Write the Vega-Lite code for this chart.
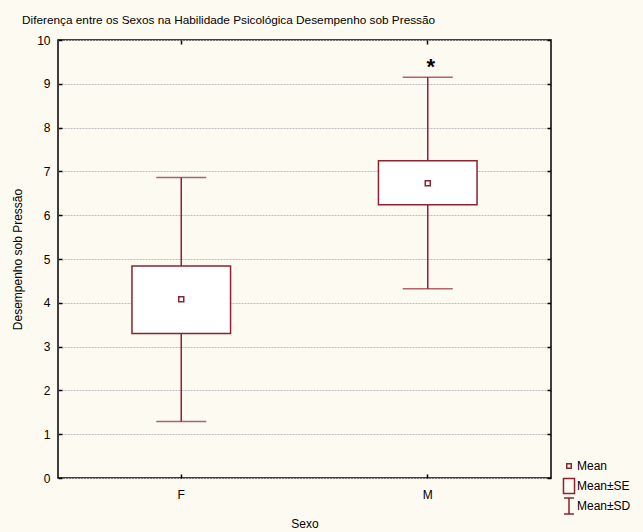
{
  "$schema": "https://vega.github.io/schema/vega-lite/v6.json",
  "width": 493,
  "height": 438,
  "autosize": "none",
  "padding": {"left": 58, "top": 40, "right": 92, "bottom": 54},
  "background": "#fdfaf2",
  "title": {
    "text": "Diferença entre os Sexos na Habilidade Psicológica Desempenho sob Pressão",
    "anchor": "start",
    "frame": "group",
    "dx": -36,
    "offset": -2,
    "baseline": "alphabetic",
    "fontSize": 11.8,
    "fontWeight": "normal",
    "font": "Liberation Sans",
    "color": "black"
  },
  "config": {
    "view": {"fill": "white", "stroke": "black", "strokeWidth": 1.5},
    "font": "Liberation Sans",
    "axis": {
      "labelFont": "Liberation Sans",
      "titleFont": "Liberation Sans",
      "labelFontSize": 12,
      "titleFontSize": 12,
      "titleFontWeight": "normal",
      "labelColor": "black",
      "titleColor": "black",
      "tickColor": "black",
      "tickWidth": 1.5,
      "domain": false
    }
  },
  "datasets": {
    "stats": [
      {"Sexo": "F", "mean": 4.08, "seLow": 3.30, "seHigh": 4.84, "sdLow": 1.29, "sdHigh": 6.86, "sig": "", "sigY": null},
      {"Sexo": "M", "mean": 6.73, "seLow": 6.24, "seHigh": 7.245, "sdLow": 4.32, "sdHigh": 9.15, "sig": "*", "sigY": 9.23}
    ],
    "legend": [
      {"k": "Mean"},
      {"k": "Mean±SE"},
      {"k": "Mean±SD"}
    ]
  },
  "layer": [
    {
      "data": {"name": "stats"},
      "mark": {"type": "rule", "color": "#8b2332", "strokeWidth": 1.5},
      "encoding": {
        "x": {
          "field": "Sexo", "type": "nominal",
          "scale": {"type": "band", "paddingInner": 0, "paddingOuter": 0},
          "axis": {"orient": "bottom", "title": "Sexo", "titleY": 40, "labelAngle": 0, "labelPadding": 15, "tickSize": -4, "grid": false}
        },
        "y": {
          "field": "sdLow", "type": "quantitative",
          "scale": {"domain": [0, 10], "nice": false},
          "axis": {"orient": "left", "title": "Desempenho sob Pressão", "titleX": -34, "titleY": 219, "values": [0,1,2,3,4,5,6,7,8,9,10], "grid": true, "gridDash": [2, 1], "gridColor": "#bbbbbb", "tickSize": -4, "labelPadding": 12}
        },
        "y2": {"field": "sdHigh"}
      }
    },
    {
      "data": {"name": "stats"},
      "mark": {"type": "bar", "fill": "white", "stroke": "#8b2332", "strokeWidth": 1.5, "width": {"band": 0.4}},
      "encoding": {
        "x": {"field": "Sexo", "type": "nominal", "axis": {"orient": "top", "labels": false, "title": null, "tickSize": -4, "grid": false}},
        "y": {"field": "seLow", "type": "quantitative", "axis": {"orient": "right", "labels": false, "title": null, "tickSize": -4, "grid": false, "values": [0,1,2,3,4,5,6,7,8,9,10]}},
        "y2": {"field": "seHigh"}
      }
    },
    {
      "data": {"name": "stats"},
      "mark": {"type": "tick", "color": "#8b2332", "thickness": 1.5, "size": 50},
      "encoding": {
        "x": {"field": "Sexo", "type": "nominal", "axis": null},
        "y": {"field": "sdHigh", "type": "quantitative", "axis": null}
      }
    },
    {
      "data": {"name": "stats"},
      "mark": {"type": "tick", "color": "#8b2332", "thickness": 1.5, "size": 50},
      "encoding": {
        "x": {"field": "Sexo", "type": "nominal", "axis": null},
        "y": {"field": "sdLow", "type": "quantitative", "axis": null}
      }
    },
    {
      "data": {"name": "stats"},
      "mark": {"type": "point", "shape": "square", "size": 25, "filled": false, "color": "#8b2332", "strokeWidth": 1.5, "opacity": 1},
      "encoding": {
        "x": {"field": "Sexo", "type": "nominal", "axis": null},
        "y": {"field": "mean", "type": "quantitative", "axis": null}
      }
    },
    {
      "data": {"name": "stats"},
      "transform": [{"filter": "datum.sig"}],
      "mark": {"type": "text", "fontSize": 22, "fontWeight": "bold", "color": "black", "baseline": "alphabetic", "dx": 3, "font": "Liberation Sans"},
      "encoding": {
        "x": {"field": "Sexo", "type": "nominal", "axis": null},
        "y": {"field": "sigY", "type": "quantitative", "axis": null},
        "text": {"field": "sig"}
      }
    },
    {
      "data": {"name": "legend"},
      "mark": {"type": "point", "opacity": 0, "filled": false, "color": "#8b2332"},
      "encoding": {
        "shape": {
          "field": "k", "type": "nominal",
          "scale": {
            "domain": ["Mean", "Mean±SE", "Mean±SD"],
            "range": [
              "M-0.32,-0.32H0.32V0.32H-0.32Z",
              "M-0.79,-1.07H0.79V1.07H-0.79Z",
              "M-0.71,-1.14H0.71M0,-1.14V1.14M-0.71,1.14H0.71"
            ]
          },
          "legend": {
            "title": null,
            "orient": "none",
            "legendX": 503,
            "legendY": 418,
            "symbolSize": 196,
            "symbolStrokeColor": "#8b2332",
            "symbolFillColor": "transparent",
            "symbolStrokeWidth": 1.5,
            "symbolOpacity": 1,
            "labelFontSize": 12,
            "labelFont": "Liberation Sans",
            "labelColor": "black",
            "gridAlign": "all",
            "rowPadding": -2,
            "labelOffset": 0,
            "padding": 0
          }
        }
      }
    }
  ],
  "resolve": {"axis": {"x": "independent", "y": "independent"}}
}
